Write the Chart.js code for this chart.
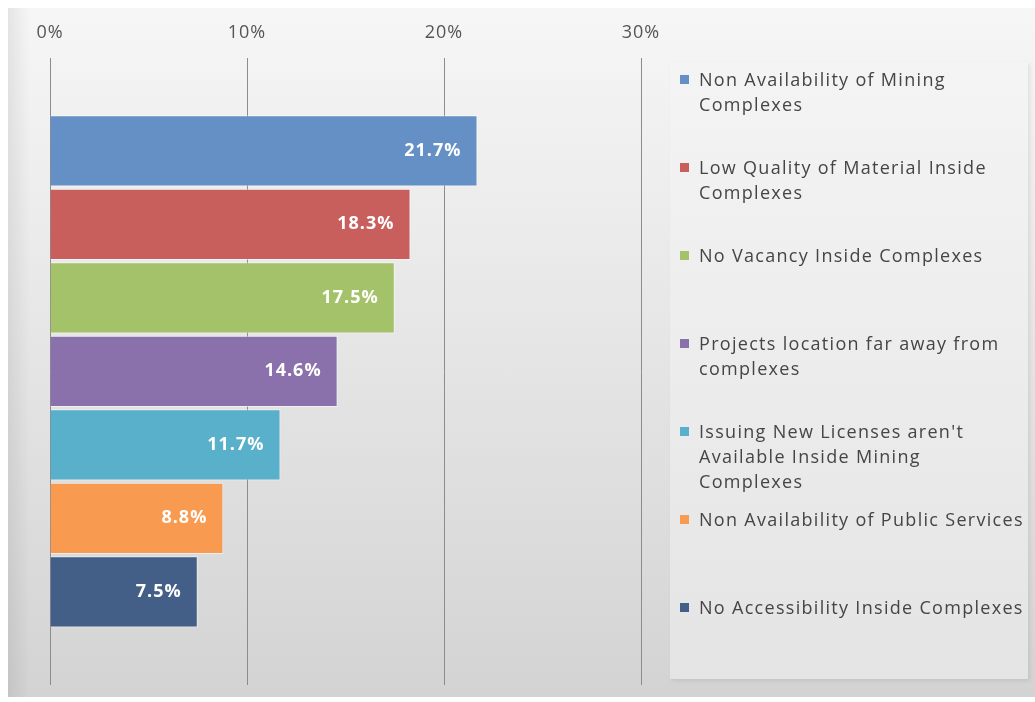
<!DOCTYPE html>
<html>
<head>
<meta charset="utf-8">
<script src="https://cdn.jsdelivr.net/npm/chart.js@4/dist/chart.umd.min.js"></script>
<style>
  html, body { margin: 0; padding: 0; background: #fff; }
  #wrap { position: relative; width: 1035px; height: 702px; overflow: hidden; }
  #panel {
    position: absolute; left: 8px; top: 8px; width: 1027px; height: 689px;
    background:
      linear-gradient(to right, rgba(0,0,0,0.07) 0px, rgba(0,0,0,0) 22px),
      linear-gradient(to bottom, #f6f6f6 0%, #ececec 30%, #dedede 70%, #d3d3d3 100%);
  }
  #legendBox {
    position: absolute; left: 670px; top: 62px; width: 358px; height: 617px;
    background: linear-gradient(to bottom, #f4f4f4 0%, #ececec 50%, #e4e4e4 100%);
    box-shadow: 2px 2px 4px rgba(0,0,0,0.08);
  }
  #legend { list-style: none; margin: 0; padding: 0; position: absolute; left: 680px; top: 67px; }
  #legend li {
    height: 88px; position: relative; padding-left: 19px;
    font: 18px "Open Sans", sans-serif; letter-spacing: 1.3px; line-height: 25px; color: #454545;
    white-space: nowrap;
  }
  #legend li span.box { position: absolute; left: 0; top: 8px; width: 9px; height: 9px; }
  #chartBox { position: absolute; left: 0; top: 0; width: 1035px; height: 702px; }
</style>
</head>
<body>
<div id="wrap">
  <div id="panel"></div>
  <div id="legendBox"></div>
  <div id="chartBox"><canvas id="barChart"></canvas></div>
  <ul id="legend"></ul>
</div>
<script>
// reasons, split the way the legend wraps them
const causeLines = [
  ['Non Availability of Mining', 'Complexes'],
  ['Low Quality of Material Inside', 'Complexes'],
  ['No Vacancy Inside Complexes'],
  ['Projects location far away from', 'complexes'],
  ["Issuing New Licenses aren't", 'Available Inside Mining', 'Complexes'],
  ['Non Availability of Public Services'],
  ['No Accessibility Inside Complexes']
];
const shares = [21.7, 18.3, 17.5, 14.6, 11.7, 8.8, 7.5];
const axisTicks = [0, 10, 20, 30];
const palette = ['#6490c6', '#c95f5c', '#a4c26a', '#8a71ac', '#59b0ca', '#f89a4f', '#435f88'];

// wider letter spacing for all canvas text
const spacing = {
  id: 'spacing',
  beforeDraw(chart) { chart.ctx.letterSpacing = '1px'; }
};

// white % labels inside the end of each bar
const barValueLabels = {
  id: 'barValueLabels',
  afterDatasetsDraw(chart) {
    const ctx = chart.ctx;
    ctx.save();
    ctx.letterSpacing = '1px';
    ctx.font = 'bold 18px "Open Sans", sans-serif';
    ctx.fillStyle = '#ffffff';
    ctx.textAlign = 'right';
    ctx.textBaseline = 'middle';
    chart.data.datasets.forEach((ds, i) => {
      chart.getDatasetMeta(i).data.forEach((bar, j) => {
        ctx.fillText(ds.data[j].toFixed(1) + '%', bar.x - 16, bar.y);
      });
    });
    ctx.restore();
  }
};

const datasets = shares.map((v, i) => ({
  label: causeLines[i].join(' '),
  data: [v],
  backgroundColor: palette[i],
  borderColor: 'rgba(255,255,255,0.55)',
  borderWidth: 1,
  categoryPercentage: 0.82,
  barPercentage: 0.97
}));

const chart = new Chart(document.getElementById('barChart').getContext('2d'), {
  type: 'bar',
  data: { labels: [''], datasets },
  options: {
    indexAxis: 'y',
    responsive: true, maintainAspectRatio: false,
    animation: false,
    layout: { padding: { left: 50, right: 394, top: 8, bottom: 17 } },
    scales: {
      x: {
        position: 'top', min: axisTicks[0], max: axisTicks[axisTicks.length - 1],
        afterBuildTicks: axis => { axis.ticks = axisTicks.map(v => ({ value: v })); },
        ticks: { color: '#555555', padding: 14, font: { family: '"Open Sans", sans-serif', size: 18 }, callback: v => v + '%' },
        grid: { color: '#8c8c8c', lineWidth: 1, drawTicks: false },
        border: { display: false }
      },
      y: { display: false }
    },
    plugins: { legend: { display: false }, tooltip: { enabled: false } }
  },
  plugins: [spacing, barValueLabels]
});

// legend on the right, built from the datasets
const legendEl = document.getElementById('legend');
chart.data.datasets.forEach((ds, i) => {
  const li = document.createElement('li');
  li.innerHTML = '<span class="box" style="background:' + ds.backgroundColor + '"></span>' + causeLines[i].join('<br>');
  legendEl.appendChild(li);
});
</script>
</body>
</html>
